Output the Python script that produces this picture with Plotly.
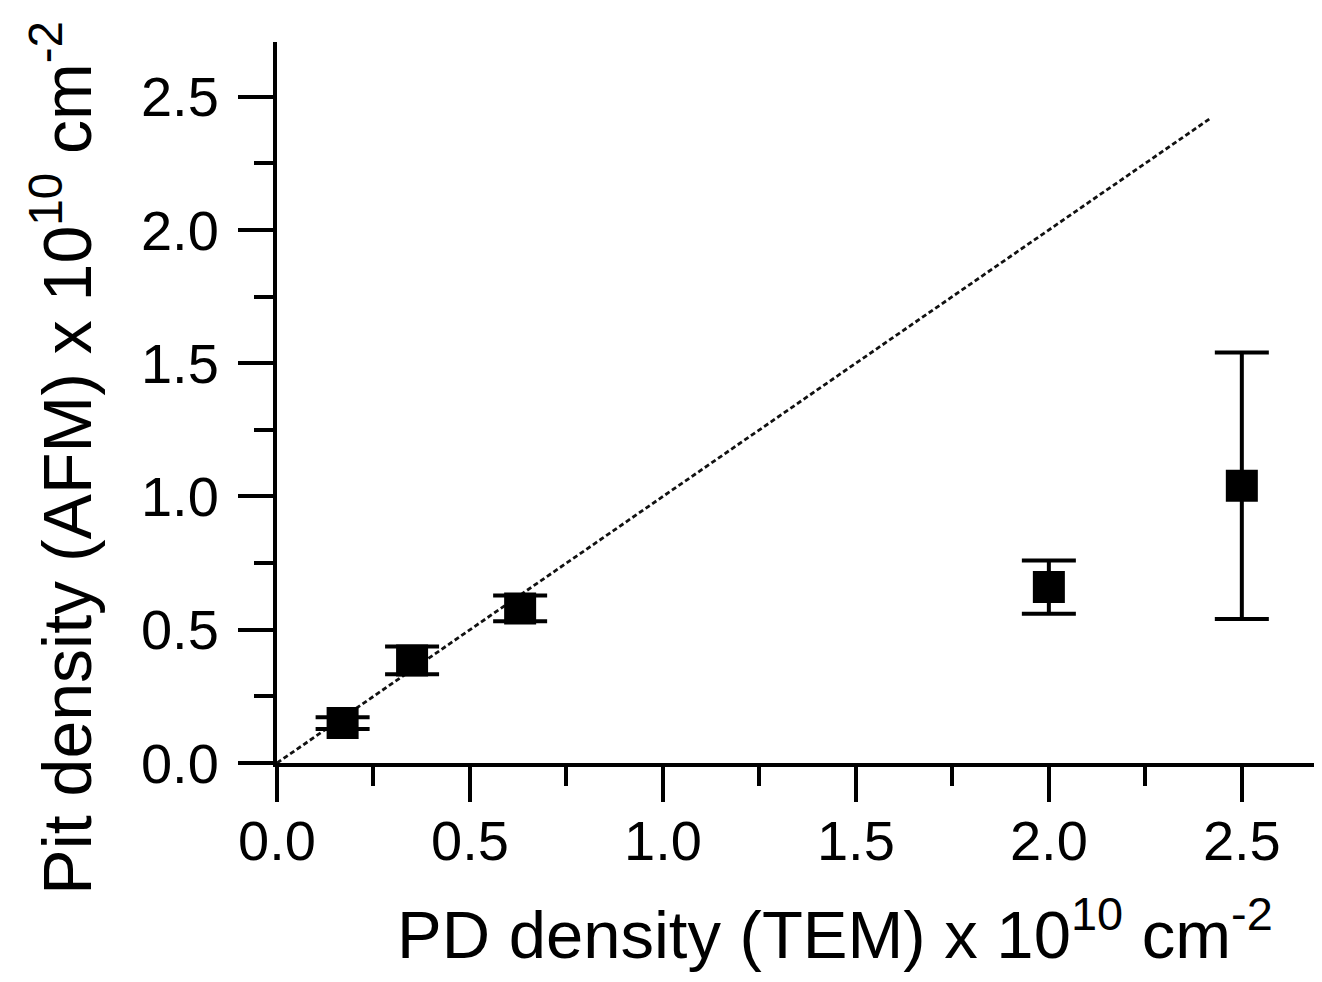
import plotly.graph_objects as go

# Data (x 10^10 cm^-2)
pd_density_tem = [0.17, 0.35, 0.63, 2.00, 2.50]
pit_density_afm = [0.15, 0.385, 0.58, 0.66, 1.04]
pit_error = [0.022, 0.052, 0.048, 0.10, 0.50]

# y = x reference line
ref_x = [0.0, 2.42]
ref_y = [0.0, 2.42]

tick_vals = [0.0, 0.5, 1.0, 1.5, 2.0, 2.5]
tick_text = ["0.0", "0.5", "1.0", "1.5", "2.0", "2.5"]
minor_vals = [0.25, 0.75, 1.25, 1.75, 2.25]

FONT = "Arial, Liberation Sans, sans-serif"

fig = go.Figure()
fig.add_trace(go.Scatter(
    x=ref_x, y=ref_y, mode="lines",
    line=dict(color="#111111", width=2.8, dash="5px,3px"),
    showlegend=False, hoverinfo="skip",
))
fig.add_trace(go.Scatter(
    x=pd_density_tem, y=pit_density_afm, mode="markers",
    marker=dict(symbol="square", size=32, color="black", line=dict(width=0)),
    error_y=dict(type="data", array=pit_error, visible=True,
                 color="black", thickness=4, width=27),
    showlegend=False,
))

axis_common = dict(
    showline=True, linecolor="black", linewidth=4,
    ticks="outside", ticklen=35, tickwidth=4, tickcolor="black",
    tickmode="array", tickvals=tick_vals, ticktext=tick_text,
    tickfont=dict(family=FONT, size=56, color="black"),
    showgrid=False, zeroline=False,
    minor=dict(ticks="outside", ticklen=19, tickwidth=4, tickcolor="black",
               tickmode="array", tickvals=minor_vals, showgrid=False),
)

fig.update_layout(
    width=1306, height=966,
    margin=dict(l=269, r=0, t=34, b=211),
    paper_bgcolor="white", plot_bgcolor="white",
    xaxis=dict(**axis_common, range=[0, 2.687], ticklabelstandoff=-9),
    yaxis=dict(**axis_common, range=[0, 2.705], ticklabelstandoff=8),
    font=dict(family=FONT, color="black"),
    annotations=[
        dict(text="PD density (TEM) x 10<sup>10</sup> cm<sup>-2</sup>",
             xref="paper", yref="paper", x=0.538, y=-0.232,
             xanchor="center", yanchor="middle", showarrow=False,
             font=dict(family=FONT, size=67, color="black")),
        dict(text="Pit density (AFM) x 10<sup>10</sup> cm<sup>-2</sup>",
             xref="paper", yref="paper", x=-0.207, y=0.424, textangle=-90,
             xanchor="center", yanchor="middle", showarrow=False,
             font=dict(family=FONT, size=68, color="black")),
    ],
)

fig.write_html("out.html")
